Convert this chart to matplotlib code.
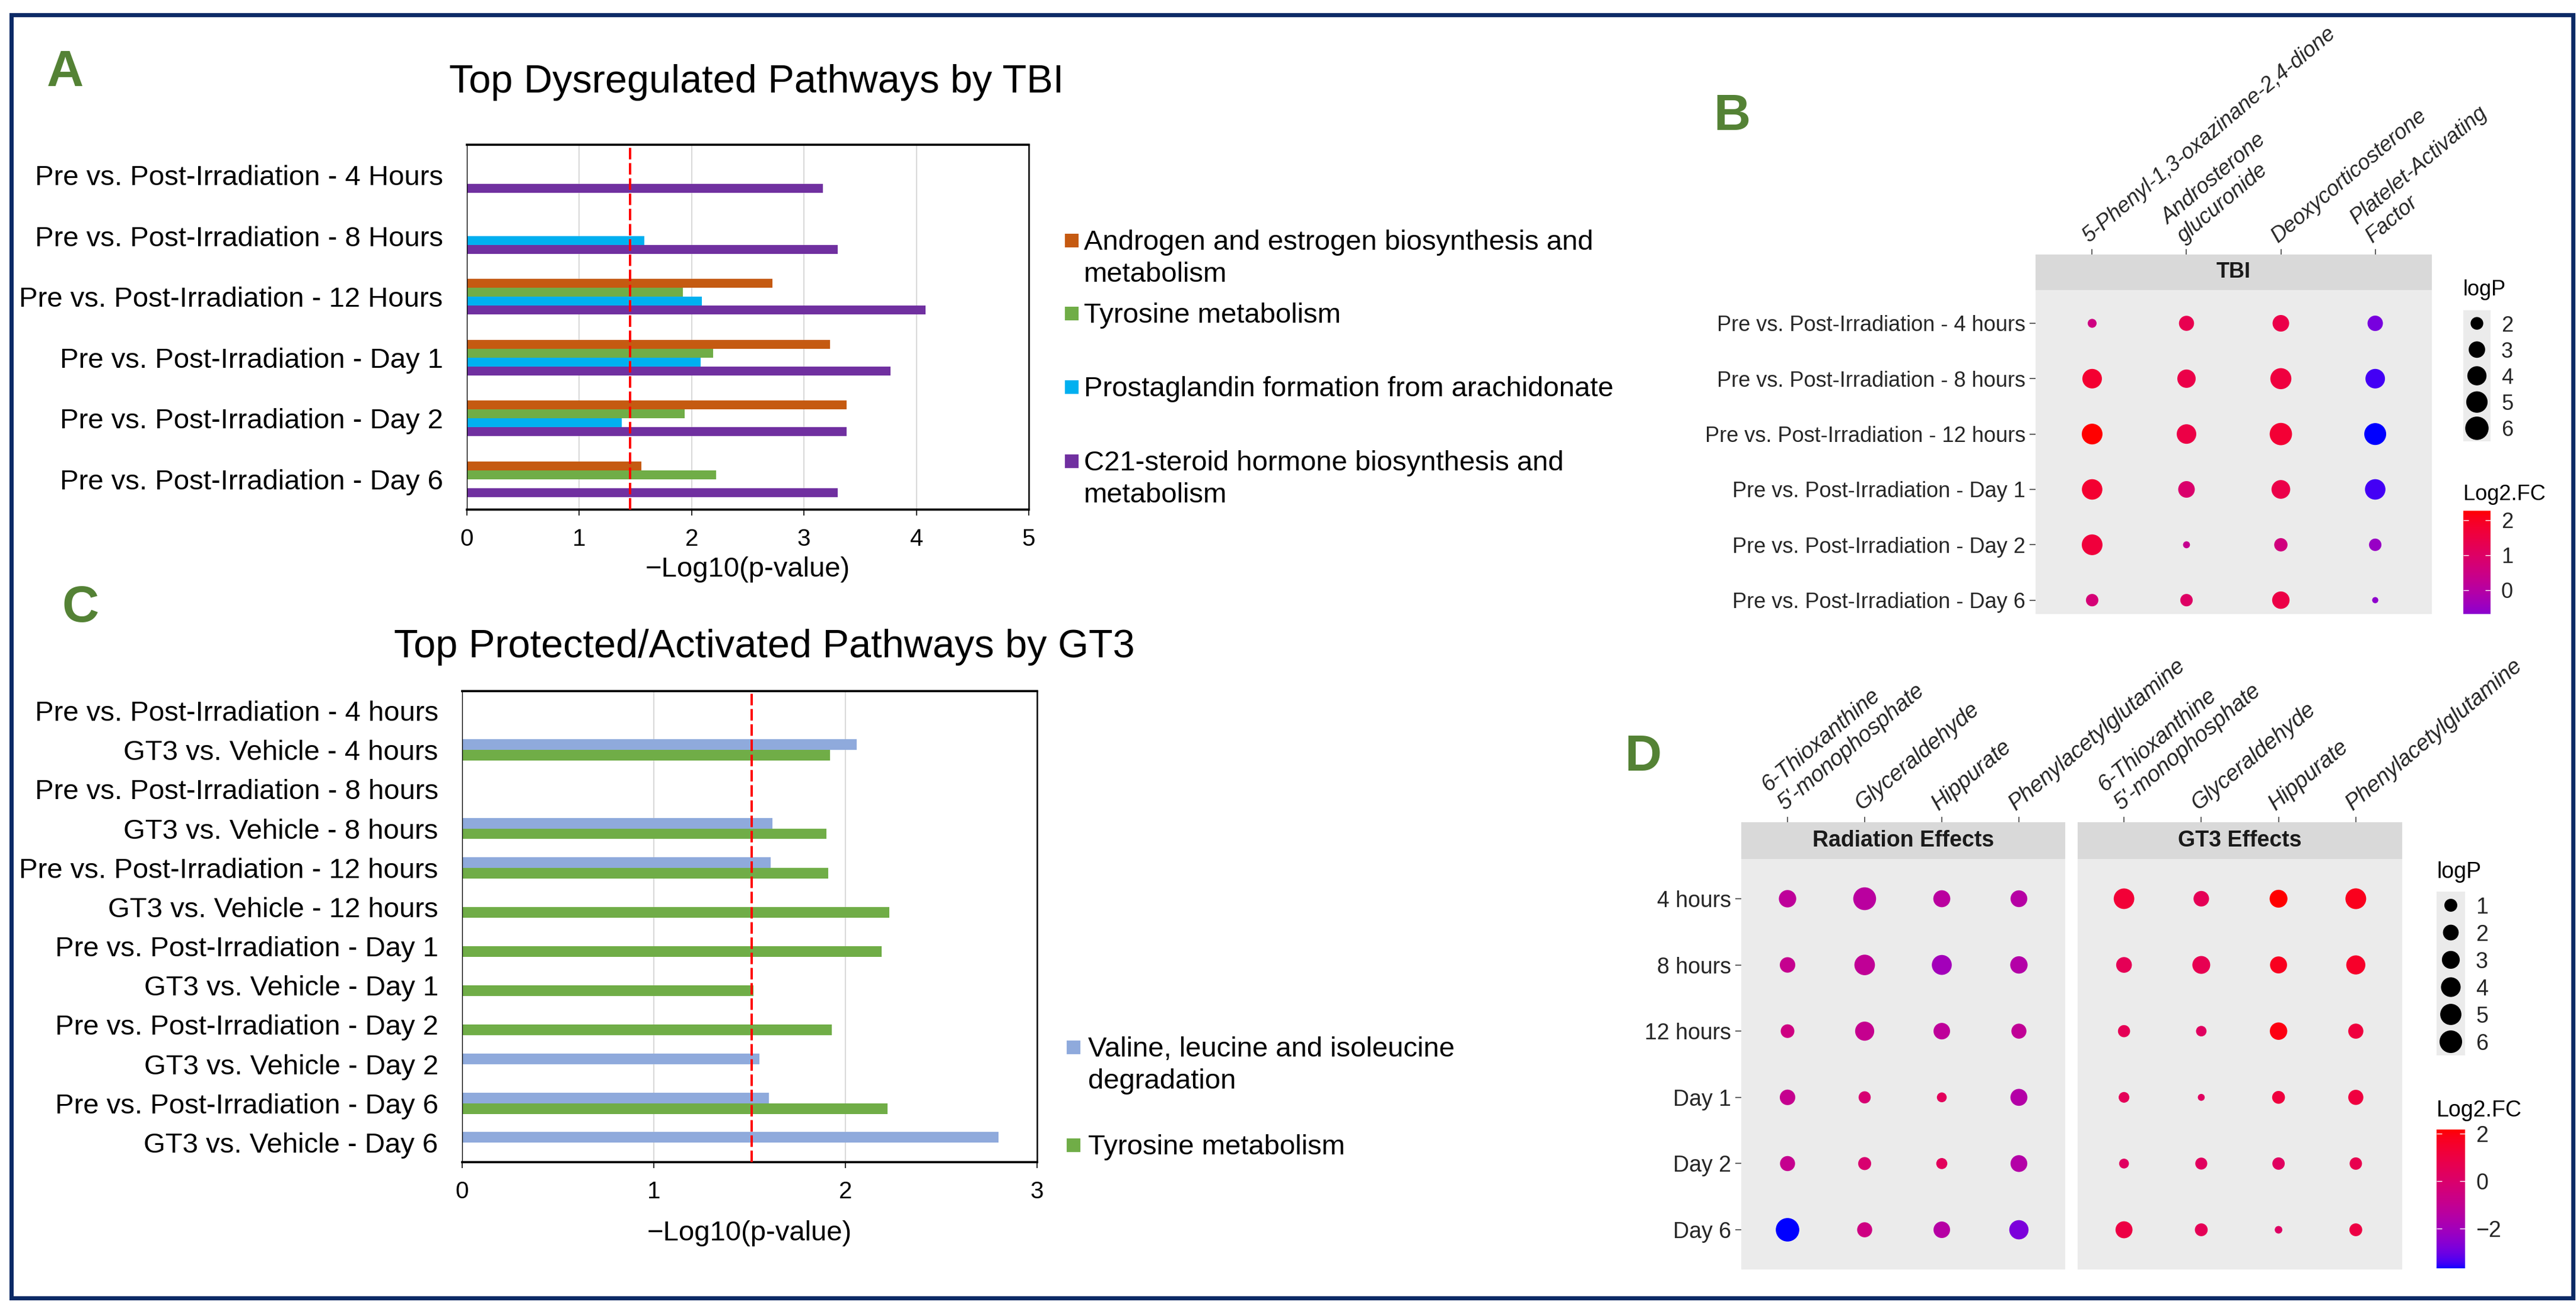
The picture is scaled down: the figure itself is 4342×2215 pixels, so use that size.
import numpy as np
import matplotlib
matplotlib.use("Agg")
import matplotlib.pyplot as plt
from matplotlib.patches import Rectangle
from matplotlib.colors import ListedColormap, Normalize

# ============================ DATA ============================
# ---- Panel A : Top Dysregulated Pathways by TBI (-log10 p) ----
a_categories = [
    "Pre vs. Post-Irradiation - 4 Hours",
    "Pre vs. Post-Irradiation - 8 Hours",
    "Pre vs. Post-Irradiation - 12 Hours",
    "Pre vs. Post-Irradiation - Day 1",
    "Pre vs. Post-Irradiation - Day 2",
    "Pre vs. Post-Irradiation - Day 6",
]
a_series_names = [
    "Androgen and estrogen biosynthesis and\nmetabolism",
    "Tyrosine metabolism",
    "Prostaglandin formation from arachidonate",
    "C21-steroid hormone biosynthesis and\nmetabolism",
]
a_androgen = [np.nan, np.nan, 2.72, 3.23, 3.38, 1.55]
a_tyrosine = [np.nan, np.nan, 1.92, 2.19, 1.94, 2.22]
a_prostaglandin = [np.nan, 1.58, 2.09, 2.08, 1.38, np.nan]
a_c21steroid = [3.17, 3.30, 4.08, 3.77, 3.38, 3.30]
a_threshold = 1.45
a_xticks = [0, 1, 2, 3, 4, 5]

# ---- Panel C : Top Protected/Activated Pathways by GT3 ----
c_categories = [
    "Pre vs. Post-Irradiation - 4 hours",
    "GT3 vs. Vehicle - 4 hours",
    "Pre vs. Post-Irradiation - 8 hours",
    "GT3 vs. Vehicle - 8 hours",
    "Pre vs. Post-Irradiation - 12 hours",
    "GT3 vs. Vehicle - 12 hours",
    "Pre vs. Post-Irradiation - Day 1",
    "GT3 vs. Vehicle - Day 1",
    "Pre vs. Post-Irradiation - Day 2",
    "GT3 vs. Vehicle - Day 2",
    "Pre vs. Post-Irradiation - Day 6",
    "GT3 vs. Vehicle - Day 6",
]
c_series_names = [
    "Valine, leucine and isoleucine\ndegradation",
    "Tyrosine metabolism",
]
c_valine = [np.nan, 2.06, np.nan, 1.62, 1.61, np.nan, np.nan, np.nan, np.nan, 1.55, 1.60, 2.80]
c_tyrosine = [np.nan, 1.92, np.nan, 1.90, 1.91, 2.23, 2.19, 1.52, 1.93, np.nan, 2.22, np.nan]
c_threshold = 1.51
c_xticks = [0, 1, 2, 3]

# ---- Panel B : TBI dot plot ----
b_rows = [
    "Pre vs. Post-Irradiation - 4 hours",
    "Pre vs. Post-Irradiation - 8 hours",
    "Pre vs. Post-Irradiation - 12 hours",
    "Pre vs. Post-Irradiation - Day 1",
    "Pre vs. Post-Irradiation - Day 2",
    "Pre vs. Post-Irradiation - Day 6",
]
b_cols = [
    "5-Phenyl-1,3-oxazinane-2,4-dione",
    "Androsterone\nglucuronide",
    "Deoxycorticosterone",
    "Platelet-Activating\nFactor",
]
b_facet = "TBI"
b_logp = [
    [1.45, 2.59, 3.05, 2.68],
    [4.16, 3.68, 4.82, 4.16],
    [4.68, 4.16, 5.46, 5.25],
    [4.57, 3.05, 3.82, 4.57],
    [4.68, 1.34, 2.14, 1.95],
    [1.95, 1.95, 3.33, 1.33],
]
b_log2fc = [
    [0.55, 1.35, 1.45, -0.89],
    [1.80, 1.45, 1.60, -1.25],
    [2.27, 1.50, 1.75, -1.40],
    [1.80, 0.88, 1.45, -1.25],
    [1.65, 0.33, 0.62, -0.52],
    [0.73, 1.02, 1.50, -0.63],
]
b_size_breaks = [2, 3, 4, 5, 6]
b_size_limits = [1.33, 6.0]
b_color_breaks = [0, 1, 2]

# ---- Panel D : Radiation vs GT3 effects dot plot ----
d_rows = ["4 hours", "8 hours", "12 hours", "Day 1", "Day 2", "Day 6"]
d_cols = ["6-Thioxanthine\n5'-monophosphate", "Glyceraldehyde", "Hippurate", "Phenylacetylglutamine"]
d_facets = ["Radiation Effects", "GT3 Effects"]
d_rad_logp = [
    [2.75, 6.19, 2.55, 2.46],
    [1.89, 4.56, 4.18, 2.75],
    [1.22, 3.68, 2.35, 1.72],
    [1.89, 0.79, 0.34, 2.55],
    [1.72, 1.02, 0.55, 2.46],
    [6.69, 1.72, 2.35, 3.78],
]
d_rad_log2fc = [
    [-1.20, -1.33, -1.30, -1.45],
    [-0.92, -1.10, -2.00, -1.50],
    [-0.57, -0.92, -1.20, -1.10],
    [-0.92, -0.16, 0.40, -1.50],
    [-0.92, -0.10, 0.40, -1.50],
    [-3.67, -0.57, -1.45, -2.80],
]
d_gt3_logp = [
    [4.59, 1.91, 2.99, 4.71],
    [1.99, 2.99, 2.57, 3.68],
    [0.79, 0.45, 2.78, 1.75],
    [0.48, 0.14, 0.97, 1.75],
    [0.34, 0.75, 0.85, 0.85],
    [2.57, 0.97, 0.15, 0.97],
]
d_gt3_log2fc = [
    [1.30, 0.54, 2.18, 1.83],
    [0.54, 0.66, 1.77, 1.60],
    [0.54, 0.30, 2.00, 1.13],
    [0.50, 0.30, 1.13, 1.10],
    [0.30, 0.35, 0.30, 0.72],
    [1.00, 0.55, 0.20, 1.00],
]
d_size_breaks = [1, 2, 3, 4, 5, 6]
d_color_breaks = [-2, 0, 2]

# ============================ STYLE / LAYOUT ============================
W, H, DPI = 4342, 2215, 100
plt.rcParams['font.family'] = ['Liberation Sans', 'DejaVu Sans']
plt.rcParams['axes.unicode_minus'] = True

A_COLORS = ['#C55A11', '#70AD47', '#00B0F0', '#7030A0']
C_COLORS = ['#8FAADC', '#70AD47']
LETTER_COLOR = '#548235'
NAVY = '#0B2A66'
GG_TEXT = '#262626'
GG_TICK = '#333333'
PANEL_BG = '#EBEBEB'
STRIP_BG = '#D9D9D9'
BAR_FS = 34
TITLE_FS = 48


def rect(x0, y0, x1, y1):
    return [x0 / W, 1 - y1 / H, (x1 - x0) / W, (y1 - y0) / H]


def fx(x):
    return x / W


def fy(y):
    return 1 - y / H


# ggplot-like blue -> red gradient interpolated in CIELAB
M_RGB2XYZ = np.array([[0.4124, 0.3576, 0.1805],
                      [0.2126, 0.7152, 0.0722],
                      [0.0193, 0.1192, 0.9505]])
WHITE = np.array([0.95047, 1.0, 1.08883])


def srgb_to_lab(c):
    c = np.asarray(c, float)
    lin = np.where(c <= 0.04045, c / 12.92, ((c + 0.055) / 1.055) ** 2.4)
    xyz = M_RGB2XYZ @ lin / WHITE
    f = np.where(xyz > 0.008856, np.cbrt(xyz), 7.787 * xyz + 16 / 116)
    return np.array([116 * f[1] - 16, 500 * (f[0] - f[1]), 200 * (f[1] - f[2])])


def lab_to_srgb(lab):
    L, a, b = lab.T
    fyv = (L + 16) / 116
    fxv = fyv + a / 500
    fzv = fyv - b / 200

    def finv(f):
        return np.where(f ** 3 > 0.008856, f ** 3, (f - 16 / 116) / 7.787)
    xyz = np.stack([finv(fxv) * WHITE[0], finv(fyv) * WHITE[1], finv(fzv) * WHITE[2]])
    lin = np.clip(np.linalg.inv(M_RGB2XYZ) @ xyz, 0, 1)
    srgb = np.where(lin <= 0.0031308, 12.92 * lin, 1.055 * lin ** (1 / 2.4) - 0.055)
    return np.clip(srgb.T, 0, 1)


lab_lo = srgb_to_lab([0, 0, 1])
lab_hi = srgb_to_lab([1, 0, 0])
tt = np.linspace(0, 1, 256)[:, None]
CMAP = ListedColormap(lab_to_srgb(lab_lo + tt * (lab_hi - lab_lo)))


def size_px(v, vmin, vmax, dmin, dmax):
    v = np.asarray(v, float)
    r = np.clip((v - vmin) / (vmax - vmin), 0, None)
    return dmin + (dmax - dmin) * np.sqrt(r)


def s_from_px(d):
    return (np.asarray(d) * 72.0 / DPI) ** 2


fig = plt.figure(figsize=(W / DPI, H / DPI), dpi=DPI)
fig.patch.set_facecolor('white')

# outer frame
fig.patches.append(Rectangle((fx(19), fy(2188)), (4337 - 19) / W, (2188 - 25) / H,
                             transform=fig.transFigure, fill=False, lw=5, ec=NAVY))

# panel letters
for letter, x, yb in [('A', 79, 145), ('B', 2888, 219), ('C', 104, 1048), ('D', 2738, 1299)]:
    fig.text(fx(x), fy(yb), letter, fontsize=62, fontweight='bold', color=LETTER_COLOR,
             ha='left', va='baseline')


# ============================ BAR PANELS ============================
def bar_panel(box, categories, series, colors, bar_h, xticks, threshold, xlabel_y):
    ax = fig.add_axes(rect(*box))
    n = len(categories)
    y = np.arange(n)
    k = len(series)
    for i, (vals, col) in enumerate(zip(series, colors)):
        off = (i - (k - 1) / 2) * bar_h
        ax.barh(y + off, np.nan_to_num(np.asarray(vals, float)), height=bar_h,
                color=col, linewidth=0, zorder=2)
    ax.set_ylim(n - 0.5, -0.5)
    ax.set_xlim(xticks[0], xticks[-1])
    ax.set_xticks(xticks)
    ax.set_xticklabels([str(t) for t in xticks])
    ax.set_yticks(y)
    ax.set_yticklabels(categories, fontsize=BAR_FS, color='black')
    ax.tick_params(axis='y', length=0, pad=29)
    ax.tick_params(axis='x', direction='out', length=7, width=1.2, labelsize=29, pad=15)
    for xg in xticks[1:-1]:
        ax.axvline(xg, color='#D9D9D9', lw=1.5, zorder=1)
    ax.axvline(threshold, color='#FF0000', ls=(0, (5, 1.6)), lw=2.8, zorder=3)
    ax.spines['top'].set_linewidth(2.6)
    ax.spines['bottom'].set_linewidth(2.6)
    ax.spines['left'].set_linewidth(1.0)
    ax.spines['right'].set_linewidth(1.8)
    ax.set_xlabel('\u2212Log10(p-value)', fontsize=BAR_FS)
    ax.xaxis.set_label_coords(0.5, (box[3] - xlabel_y) / (box[3] - box[1]))
    ax.xaxis.label.set_va('center')
    return ax


axA = bar_panel((787, 244, 1734, 859), a_categories,
                [a_androgen, a_tyrosine, a_prostaglandin, a_c21steroid],
                A_COLORS, 0.146, a_xticks, a_threshold, 960)
axC = bar_panel((779, 1165, 1748, 1959), c_categories, [c_valine, c_tyrosine],
                C_COLORS, 0.27, c_xticks, c_threshold, 2079)

fig.text(fx(1275), fy(156), "Top Dysregulated Pathways by TBI", fontsize=TITLE_FS,
         ha='center', va='baseline')
fig.text(fx(1288), fy(1108), "Top Protected/Activated Pathways by GT3", fontsize=TITLE_FS,
         ha='center', va='baseline')


def bar_legend(names, colors, x_marker, marker_w, x_text, y_mids):
    for name, col, ym in zip(names, colors, y_mids):
        fig.patches.append(Rectangle((fx(x_marker), fy(ym + marker_w / 2)), marker_w / W, marker_w / H,
                                     transform=fig.transFigure, fc=col, ec='none'))
        for j, line in enumerate(name.split('\n')):
            fig.text(fx(x_text), fy(ym + 16 + 54 * j), line, fontsize=BAR_FS, ha='left', va='baseline')


bar_legend(a_series_names, A_COLORS, 1795, 23, 1827, [405, 528, 652, 777])
bar_legend(c_series_names, C_COLORS, 1798, 23, 1834, [1765, 1930])


# ============================ DOT PANELS ============================
def dot_panel(box, strip_box, logp, fc, norm, size_lim, dsize, rows, cols, facet, ylim_bottom,
              show_rows, fs=26):
    ax = fig.add_axes(rect(*box), facecolor=PANEL_BG)
    logp = np.asarray(logp, float)
    fc = np.asarray(fc, float)
    nr, nc = logp.shape
    xx, yy = np.meshgrid(np.arange(nc), np.arange(nr))
    d = size_px(logp, size_lim[0], size_lim[1], dsize[0], dsize[1])
    ax.scatter(xx.ravel(), yy.ravel(), s=s_from_px(d.ravel()), c=fc.ravel(), cmap=CMAP,
               norm=norm, edgecolors='none', zorder=3)
    ax.set_xlim(-0.6, nc - 1 + 0.6)
    ax.set_ylim(ylim_bottom, -0.6)
    ax.set_xticks([])
    for s in ax.spines.values():
        s.set_visible(False)
    if show_rows:
        ax.set_yticks(np.arange(nr))
        ax.set_yticklabels(rows, fontsize=fs, color=GG_TEXT)
        ax.tick_params(axis='y', length=7, width=1.1, color=GG_TICK, pad=5)
    else:
        ax.set_yticks([])
    sx = fig.add_axes(rect(*strip_box), facecolor=STRIP_BG)
    sx.set_xlim(-0.6, nc - 1 + 0.6)
    sx.set_ylim(0, 1)
    sx.set_yticks([])
    sx.set_xticks(np.arange(nc))
    sx.xaxis.tick_top()
    sx.set_xticklabels(cols, rotation=40, ha='left', va='bottom', rotation_mode='anchor',
                       fontstyle='italic', fontsize=fs, color=GG_TEXT)
    sx.tick_params(axis='x', direction='out', length=6.5, width=1.1, color=GG_TICK, pad=3)
    for s in sx.spines.values():
        s.set_visible(False)
    sx.text(0.5, 0.5, facet, transform=sx.transAxes, ha='center', va='center',
            fontsize=fs, fontweight='bold', color='#1A1A1A')
    return ax


def size_key(box, breaks, size_lim, dsize, title, title_baseline, fs=26):
    kx = fig.add_axes(rect(*box), facecolor=PANEL_BG)
    n = len(breaks)
    kx.set_xlim(0, 1)
    kx.set_ylim(n, 0)
    d = size_px(breaks, size_lim[0], size_lim[1], dsize[0], dsize[1])
    kx.scatter(np.full(n, 0.5), np.arange(n) + 0.5, s=s_from_px(d), color='black',
               edgecolors='none', clip_on=False)
    kx.set_xticks([])
    kx.yaxis.tick_right()
    kx.set_yticks(np.arange(n) + 0.5)
    kx.set_yticklabels([str(b) for b in breaks], fontsize=fs, color=GG_TEXT)
    kx.tick_params(axis='y', length=0, pad=13)
    for s in kx.spines.values():
        s.set_visible(False)
    fig.text(fx(box[0]), fy(title_baseline), title, fontsize=fs, ha='left', va='baseline', color='black')


def colorbar_key(box, norm, breaks, ylow, title, title_baseline, fs=26):
    cx = fig.add_axes(rect(*box))
    grad = np.linspace(norm.vmin, norm.vmax, 512).reshape(-1, 1)
    cx.imshow(grad, cmap=CMAP, norm=norm, aspect='auto', origin='lower',
              extent=[0, 1, norm.vmin, norm.vmax])
    cx.set_xlim(0, 1)
    cx.set_ylim(ylow, norm.vmax)
    cx.set_xticks([])
    cx.set_yticks(breaks)
    cx.set_yticklabels(['\u2212' + str(abs(b)) if b < 0 else str(b) for b in breaks],
                       fontsize=fs, color=GG_TEXT)
    cx.tick_params(axis='y', direction='in', length=6.5, width=1.0, color='white',
                   left=True, right=True, labelleft=False, labelright=True, pad=13)
    for s in cx.spines.values():
        s.set_visible(False)
    fig.text(fx(box[0]), fy(title_baseline), title, fontsize=fs, ha='left', va='baseline', color='black')


# ---- Panel B ----
b_fc_arr = np.asarray(b_log2fc, float)
norm_b = Normalize(b_fc_arr.min(), b_fc_arr.max())
B_DSIZE = (10.4, 39.4)
dot_panel((3431, 489, 4099, 1035), (3431, 429, 4099, 489), b_logp, b_log2fc, norm_b,
          b_size_limits, B_DSIZE, b_rows, b_cols, b_facet, 5.25, True, fs=26)
size_key((4152, 523, 4198, 744), b_size_breaks, b_size_limits, B_DSIZE, "logP", 498)
colorbar_key((4152, 861, 4198, 1035), norm_b, b_color_breaks, -0.68, "Log2.FC", 843)

# ---- Panel D ----
d_all_fc = np.concatenate([np.ravel(d_rad_log2fc), np.ravel(d_gt3_log2fc)])
d_all_lp = np.concatenate([np.ravel(d_rad_logp), np.ravel(d_gt3_logp)])
norm_d = Normalize(d_all_fc.min(), d_all_fc.max())
d_size_limits = [d_all_lp.min(), d_all_lp.max()]
D_DSIZE = (11.7, 39.6)
dot_panel((2935, 1448, 3481, 2140), (2935, 1386, 3481, 1448), d_rad_logp, d_rad_log2fc, norm_d,
          d_size_limits, D_DSIZE, d_rows, d_cols, d_facets[0], 5.6, True, fs=27)
dot_panel((3502, 1448, 4049, 2140), (3502, 1386, 4049, 1448), d_gt3_logp, d_gt3_log2fc, norm_d,
          d_size_limits, D_DSIZE, d_rows, d_cols, d_facets[1], 5.6, False, fs=27)
size_key((4107, 1503, 4155, 1779), d_size_breaks, d_size_limits, D_DSIZE, "logP", 1480, fs=27)
colorbar_key((4107, 1904, 4155, 2138), norm_d, d_color_breaks, norm_d.vmin, "Log2.FC", 1882, fs=27)

fig.savefig('out.png', dpi=DPI, facecolor='white')
